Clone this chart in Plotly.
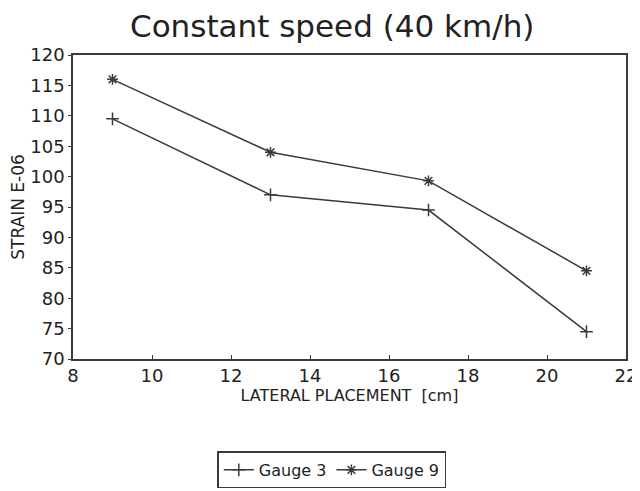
import plotly.graph_objects as go

lateral_cm = [9, 13, 17, 21]
gauge3 = [109.5, 97.0, 94.5, 74.5]
gauge9 = [116.0, 104.0, 99.3, 84.5]

x_ticks = [8, 10, 12, 14, 16, 18, 20, 22]
y_ticks = [70, 75, 80, 85, 90, 95, 100, 105, 110, 115, 120]

INK = "#3a3a3a"
FONT = "DejaVu Sans"

fig = go.Figure()
fig.add_trace(go.Scatter(
    x=lateral_cm, y=gauge3, mode="lines+markers", name="Gauge 3",
    line=dict(color=INK, width=1.5),
    marker=dict(symbol="cross-thin", size=9, color=INK, line=dict(color=INK, width=1.5)),
))
fig.add_trace(go.Scatter(
    x=lateral_cm, y=gauge9, mode="lines+markers", name="Gauge 9",
    line=dict(color=INK, width=1.5),
    marker=dict(symbol="asterisk", size=9, color=INK, line=dict(color=INK, width=1.5)),
))

# the page body adds an 8 px margin, so the figure is sized to fit the window
fig.update_layout(
    width=632, height=483,
    margin=dict(l=65, r=14, t=47, b=132, autoexpand=False),
    paper_bgcolor="white", plot_bgcolor="white",
    font=dict(family=FONT, color=INK, size=14),
    title=dict(text="Constant speed (40 km/h)", x=0.513, xanchor="center",
               y=0.963, yanchor="middle",
               font=dict(family=FONT, size=31, color="#222")),
    showlegend=True,
    legend=dict(orientation="h", x=0.468, xanchor="center", y=-0.365, yanchor="middle",
                bordercolor=INK, borderwidth=1.5, bgcolor="white",
                font=dict(family=FONT, size=16, color="#222"),
                itemwidth=30, tracegroupgap=0),
)
fig.update_xaxes(
    range=[8, 22], tickvals=x_ticks, ticks="inside", ticklen=4, tickcolor=INK,
    showline=True, linecolor=INK, linewidth=1.5, mirror=True, showgrid=False, zeroline=False,
    automargin=False,
    tickfont=dict(size=18, color="#222"),
    title=dict(text="LATERAL PLACEMENT  [cm]", font=dict(size=16, color="#222"), standoff=2),
)
fig.update_yaxes(
    range=[70, 120], tickvals=y_ticks, ticks="outside", ticklen=3, tickcolor=INK,
    showline=True, linecolor=INK, linewidth=1.5, mirror=True, showgrid=False, zeroline=False,
    automargin=False,
    tickfont=dict(size=18, color="#222"),
    title=dict(text="STRAIN E-06", font=dict(size=17, color="#222"), standoff=4),
)

fig.write_html("out.html")
